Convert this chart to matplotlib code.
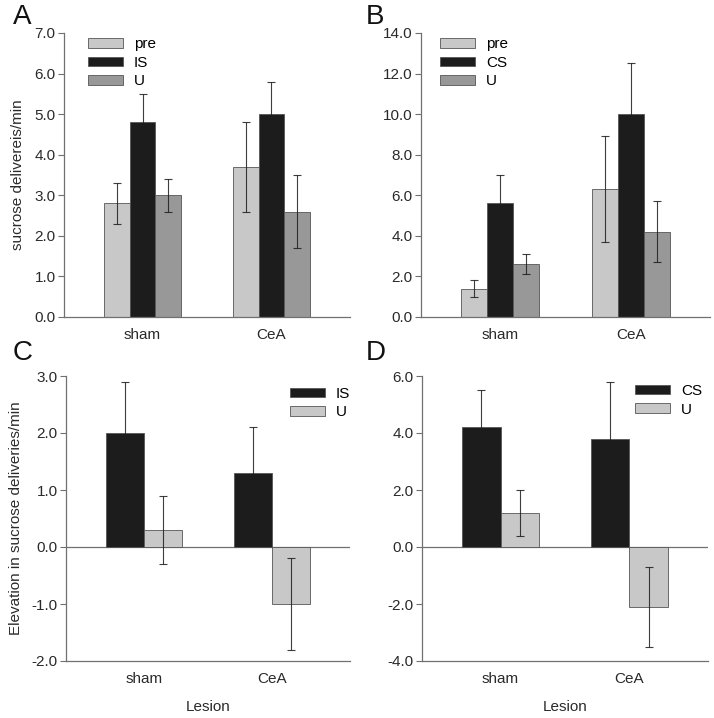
import matplotlib
matplotlib.use('Agg')
import matplotlib.pyplot as plt
import numpy as np

plt.rcParams['font.family'] = ['Liberation Sans', 'DejaVu Sans']

groups = ['sham', 'CeA']

# panel A
a_pre = [2.8, 3.7]
a_pre_err = [0.5, 1.1]
a_is = [4.8, 5.0]
a_is_err = [0.7, 0.8]
a_u = [3.0, 2.6]
a_u_err = [0.4, 0.9]

# panel B
b_pre = [1.4, 6.3]
b_pre_err = [0.4, 2.6]
b_cs = [5.6, 10.0]
b_cs_err = [1.4, 2.5]
b_u = [2.6, 4.2]
b_u_err = [0.5, 1.5]

# panel C
c_is = [2.0, 1.3]
c_is_err = [0.9, 0.8]
c_u = [0.3, -1.0]
c_u_err = [0.6, 0.8]

# panel D
d_cs = [4.2, 3.8]
d_cs_err = [1.3, 2.0]
d_u = [1.2, -2.1]
d_u_err = [0.8, 1.4]

light = '#c8c8c8'
dark = '#1c1c1c'
mid = '#989898'
spine_col = '#707070'
text_col = '#2a2a2a'

W, H = 714, 718
fig = plt.figure(figsize=(W / 100, H / 100), dpi=100)


def make_ax(left, top, right, bottom):
    return fig.add_axes([left / W, 1 - bottom / H, (right - left) / W, (bottom - top) / H])


def style(ax, ylim, yticks, zero_line=False):
    ax.set_xlim(-0.61, 1.61)
    ax.set_ylim(*ylim)
    ax.set_yticks(yticks)
    ax.set_yticklabels([f'{t:.1f}' for t in yticks])
    ax.set_xticks([0, 1])
    ax.set_xticklabels(groups)
    for s in ['top', 'right']:
        ax.spines[s].set_visible(False)
    for s in ['left', 'bottom']:
        ax.spines[s].set_color(spine_col)
        ax.spines[s].set_linewidth(0.9)
    ax.tick_params(axis='y', direction='out', length=4, width=0.8, color=spine_col,
                   labelsize=11, labelcolor=text_col, pad=2)
    ax.tick_params(axis='x', length=0, labelsize=11, labelcolor=text_col, pad=8)
    if zero_line:
        ax.axhline(0, color=spine_col, linewidth=0.9, zorder=1)


def bars(ax, offsets, width, series, errs, colors, labels):
    x = np.arange(len(groups))
    for off, vals, err, col, lab in zip(offsets, series, errs, colors, labels):
        ax.bar(x + off, vals, width, color=col, edgecolor='#555555', linewidth=0.6,
               label=lab, zorder=2)
        ax.errorbar(x + off, vals, yerr=err, fmt='none', ecolor=dark,
                    elinewidth=0.8, capsize=3, capthick=0.8, zorder=3, alpha=0.85)


def legend(ax, anchor):
    ax.legend(loc='upper left', bbox_to_anchor=anchor, frameon=False, fontsize=11,
              handlelength=2.3, handleheight=0.6, handletextpad=0.7,
              labelspacing=0.3, borderaxespad=0, borderpad=0)


# A
axA = make_ax(64, 33, 350, 317)
bars(axA, [-0.2, 0, 0.2], 0.2, [a_pre, a_is, a_u], [a_pre_err, a_is_err, a_u_err],
     [light, dark, mid], ['pre', 'IS', 'U'])
style(axA, (0, 7), np.arange(0, 7.1, 1.0))
axA.set_ylabel('sucrose delivereis/min', fontsize=11, color=text_col, labelpad=7)
legend(axA, (0.084, 0.985))

# B
axB = make_ax(421, 33, 710, 317)
bars(axB, [-0.2, 0, 0.2], 0.2, [b_pre, b_cs, b_u], [b_pre_err, b_cs_err, b_u_err],
     [light, dark, mid], ['pre', 'CS', 'U'])
style(axB, (0, 14), np.arange(0, 14.1, 2.0))
legend(axB, (0.066, 0.985))

# C
axC = make_ax(66, 376, 350, 661)
bars(axC, [-0.15, 0.15], 0.3, [c_is, c_u], [c_is_err, c_u_err],
     [dark, light], ['IS', 'U'])
style(axC, (-2, 3), np.arange(-2, 3.1, 1.0), zero_line=True)
axC.set_ylabel('Elevation in sucrose deliveries/min', fontsize=11, color=text_col, labelpad=6)
axC.set_xlabel('Lesion', fontsize=11, color=text_col, labelpad=10)
legend(axC, (0.789, 0.962))

# D
axD = make_ax(422, 376, 708, 661)
bars(axD, [-0.15, 0.15], 0.3, [d_cs, d_u], [d_cs_err, d_u_err],
     [dark, light], ['CS', 'U'])
style(axD, (-4, 6), np.arange(-4, 6.1, 2.0), zero_line=True)
axD.set_xlabel('Lesion', fontsize=11, color=text_col, labelpad=10)
legend(axD, (0.745, 0.972))

for lab, x, y in [('A', 13, 4), ('B', 366, 4), ('C', 13, 340), ('D', 366, 340)]:
    fig.text(x / W, 1 - y / H, lab, fontsize=20, va='top', ha='left', color='#111111')

fig.savefig('out.png', dpi=100)
